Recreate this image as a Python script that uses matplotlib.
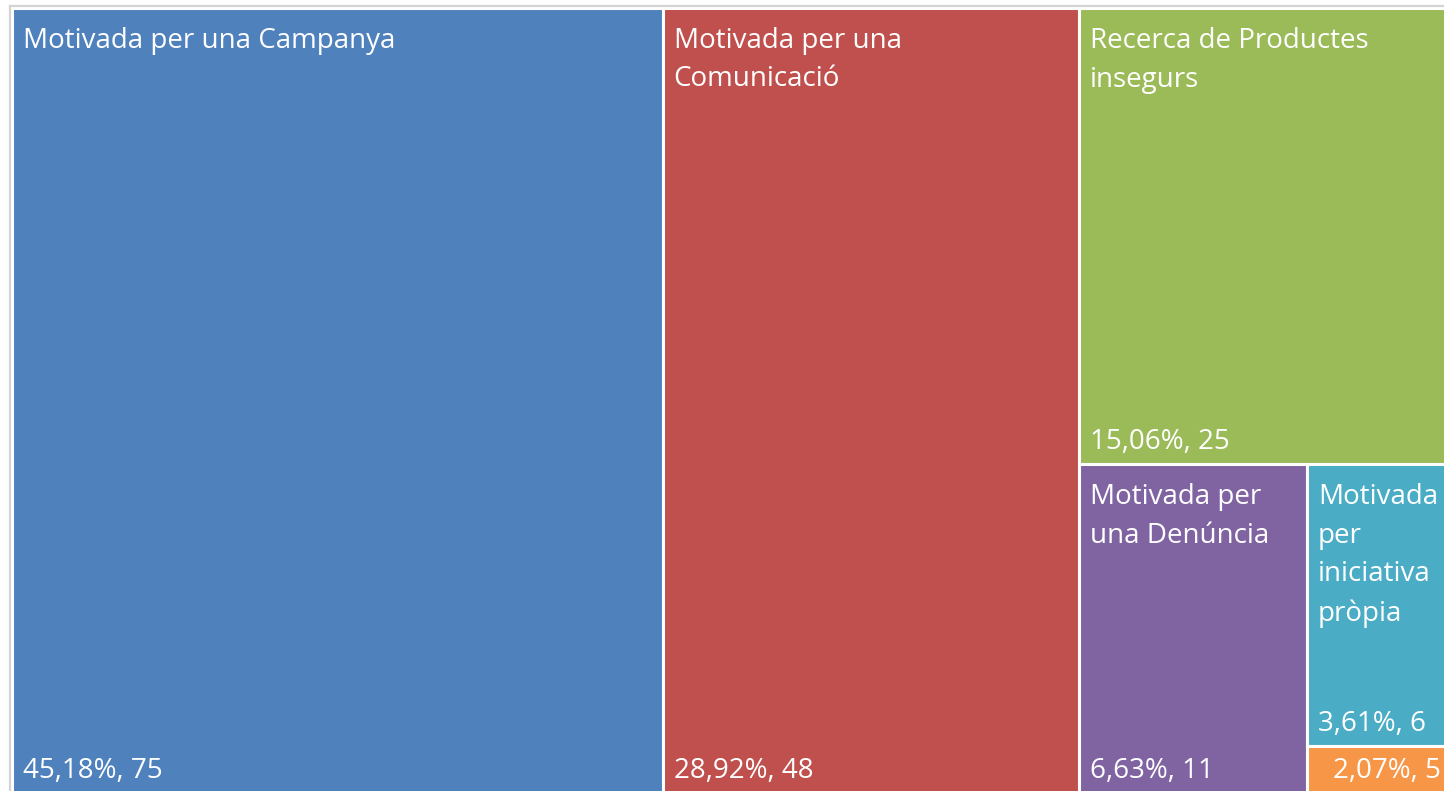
import matplotlib

matplotlib.use("Agg")
import matplotlib.pyplot as plt
from matplotlib.patches import Rectangle

# ---- data -------------------------------------------------------------------
names = [
    "Motivada per una Campanya",
    "Motivada per una\nComunicació",
    "Recerca de Productes\ninsegurs",
    "Motivada per\nuna Denúncia",
    "Motivada\nper\niniciativa\npròpia",
    "",
]
sizes = [75, 48, 25, 11, 6, 1]
value_labels = ["45,18%, 75", "28,92%, 48", "15,06%, 25", "6,63%, 11", "3,61%, 6", "2,07%, 5"]
colors = ["#4F81BD", "#C0504D", "#9BBB59", "#8064A2", "#4BACC6", "#F79646"]

# chart area in pixels (the original screenshot crops it a little on right/bottom)
FIG_W, FIG_H = 1444, 791
CHART_X, CHART_Y = 12, 8          # top-left of chart area, px
CHART_W, CHART_H = 1440, 785
PAD = 2.5


# ---- squarified treemap layout ---------------------------------------------
def _layout_row(vals, x, y, dx, dy):
    covered = sum(vals)
    w = covered / dy
    out = []
    for v in vals:
        out.append((x, y, w, v / w))
        y += v / w
    return out


def _layout_col(vals, x, y, dx, dy):
    covered = sum(vals)
    h = covered / dx
    out = []
    for v in vals:
        out.append((x, y, v / h, h))
        x += v / h
    return out


def _layout(vals, x, y, dx, dy):
    return _layout_row(vals, x, y, dx, dy) if dx >= dy else _layout_col(vals, x, y, dx, dy)


def _leftover(vals, x, y, dx, dy):
    covered = sum(vals)
    if dx >= dy:
        w = covered / dy
        return x + w, y, dx - w, dy
    h = covered / dx
    return x, y + h, dx, dy - h


def _worst(vals, x, y, dx, dy):
    return max(max(r[2] / r[3], r[3] / r[2]) for r in _layout(vals, x, y, dx, dy))


def squarify(vals, x, y, dx, dy):
    if not vals:
        return []
    if len(vals) == 1:
        return _layout(vals, x, y, dx, dy)
    i = 1
    while i < len(vals) and _worst(vals[:i], x, y, dx, dy) >= _worst(vals[:i + 1], x, y, dx, dy):
        i += 1
    cur, rest = vals[:i], vals[i:]
    lx, ly, ldx, ldy = _leftover(cur, x, y, dx, dy)
    return _layout(cur, x, y, dx, dy) + squarify(rest, lx, ly, ldx, ldy)


total = sum(sizes)
norm = [s * CHART_W * CHART_H / total for s in sizes]
rects = squarify(norm, 0, 0, CHART_W, CHART_H)

# ---- plot -------------------------------------------------------------------
fig = plt.figure(figsize=(FIG_W / 100, FIG_H / 100), dpi=100)
left = (CHART_X - PAD) / FIG_W
bottom = (FIG_H - CHART_Y - CHART_H - PAD) / FIG_H
ax = fig.add_axes([left, bottom, (CHART_W + 2 * PAD) / FIG_W, (CHART_H + 2 * PAD) / FIG_H])
ax.set_xlim(-PAD, CHART_W + PAD)
ax.set_ylim(CHART_H + PAD, -PAD)   # y grows downward like the screen
ax.set_xticks([])
ax.set_yticks([])
for sp in ax.spines.values():
    sp.set_color("#d4d4d4")
    sp.set_linewidth(1.6)

font = ["Open Sans", "DejaVu Sans"]
fs = 20
for (x, y, w, h), name, val, c in zip(rects, names, value_labels, colors):
    ax.add_patch(Rectangle((x, y), w, h, facecolor=c, edgecolor="white", linewidth=2.2))
    if name:
        ax.annotate(name, xy=(x, y), xytext=(11, -19), textcoords="offset pixels",
                    ha="left", va="top", color="white", fontsize=fs, family=font,
                    linespacing=1.5, annotation_clip=False)
    dx_txt = 11 if name else 26
    ax.annotate(val, xy=(x, y + h), xytext=(dx_txt, 15), textcoords="offset pixels",
                ha="left", va="baseline", color="white", fontsize=fs, family=font,
                annotation_clip=False)

fig.savefig("out.png", dpi=100)
